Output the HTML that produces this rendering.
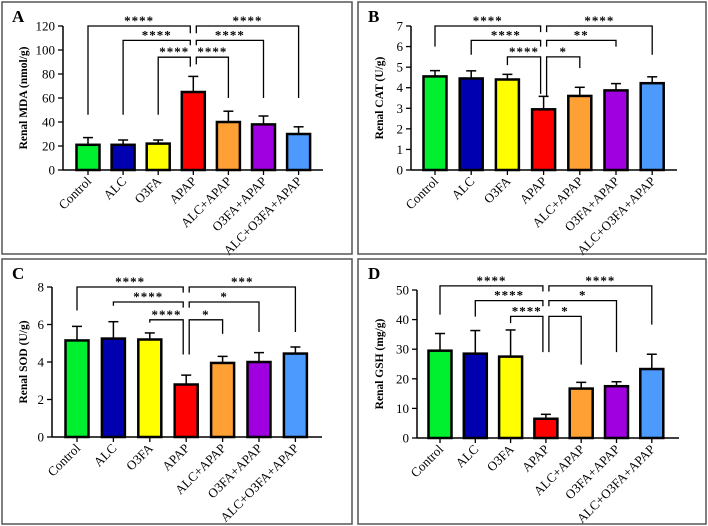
<!DOCTYPE html>
<html><head><meta charset="utf-8"><style>
body{margin:0;background:#fff;}
svg{display:block;font-family:"Liberation Serif",serif;}
</style></head><body>
<svg id="fig" width="708" height="526" viewBox="0 0 708 526"></svg>
<script>
const categories = ["Control","ALC","O3FA","APAP","ALC+APAP","O3FA+APAP","ALC+O3FA+APAP"];
const colors = ["#00f030","#0000b0","#ffff00","#ff0000","#ffa035","#a000e0","#4d9aff"];
const mdaMeans = [21,21,22,65,40,38,30];
const mdaErr = [6,4,3,13,9,7,6];
const mdaTicks = [0,20,40,60,80,100,120];
const catMeans = [4.55,4.45,4.4,2.95,3.6,3.87,4.22];
const catErr = [0.28,0.37,0.25,0.63,0.42,0.33,0.31];
const catTicks = [0,1,2,3,4,5,6,7];
const sodMeans = [5.15,5.25,5.2,2.8,3.95,4.0,4.45];
const sodErr = [0.75,0.9,0.35,0.5,0.35,0.5,0.35];
const sodTicks = [0,2,4,6,8];
const gshMeans = [29.5,28.5,27.5,6.5,16.7,17.5,23.3];
const gshErr = [5.8,7.8,9.0,1.5,2.1,1.5,5.0];
const gshTicks = [0,10,20,30,40,50];
// brackets: [otherGroup, level, otherLegEnd, apapLegEnd, label]
const mdaBrackets = [[0,120,46,114,"****"],[1,108,46,104,"****"],[2,94,46,86,"****"],[6,120,60,114,"****"],[5,108,60,104,"****"],[4,94,60,88,"****"]];
const catBrackets = [[0,7,6.0,6.7,"****"],[1,6.3,5.6,6.0,"****"],[2,5.5,5.1,3.7,"****"],[6,7,5.6,6.7,"****"],[5,6.3,6.0,6.0,"**"],[4,5.5,4.95,3.6,"*"]];
const sodBrackets = [[0,8,6.75,7.7,"****"],[1,7.2,7.0,6.9,"****"],[2,6.25,6.1,4.4,"****"],[6,8,5.6,7.7,"***"],[5,7.2,5.6,6.9,"*"],[4,6.25,5.5,4.4,"*"]];
const gshBrackets = [[0,51.4,41.7,49.5,"****"],[1,46.4,41,44.5,"****"],[2,41.1,38.8,29,"****"],[6,51.4,38.3,49.5,"****"],[5,46.4,29,44.5,"*"],[4,41.1,24.8,29,"*"]];

const NS="http://www.w3.org/2000/svg";
const svg=document.getElementById('fig');
function mk(tag,attrs,parent){const e=document.createElementNS(NS,tag);for(const k in attrs)e.setAttribute(k,attrs[k]);(parent||svg).appendChild(e);return e;}

function panel(p){
  const g=mk('g',{});
  
  
  const box=mk('rect',{x:p.bx,y:p.by,width:p.bw,height:p.bh,fill:'none',stroke:'#555','stroke-width':1.5},g);
  
  
  const lt=mk('text',{x:p.bx+10,y:p.by+20,'font-size':17,'font-weight':'bold'},g);lt.textContent=p.letter;
  
  
  const maxV=p.ticks[p.ticks.length-1];
  const ys=v=>p.y0-(v/maxV)*(p.y0-p.yTop);
  const xs=i=>p.c0+i*p.step;
  const ax=mk('line',{x1:p.ax,y1:p.yTop,x2:p.ax,y2:p.y0,stroke:'#000','stroke-width':1.5},g);
  
  
  p.ticks.forEach(t=>{
    mk('line',{x1:p.ax-5,y1:ys(t),x2:p.ax,y2:ys(t),stroke:'#000','stroke-width':1.3},g);
    const tx=mk('text',{x:p.ax-8,y:ys(t)+4.5,'font-size':13,'text-anchor':'end'},g);tx.textContent=t;
    
    
  });
  const yl=mk('text',{x:0,y:0,'font-size':11.5,'font-weight':'bold','text-anchor':'middle',transform:`translate(${p.bx+25},${(p.yTop+p.y0)/2}) rotate(-90)`},g);
  yl.textContent=p.ylabel;
  
  
  const xa=mk('line',{x1:p.ax,y1:p.y0,x2:p.axEnd,y2:p.y0,stroke:'#000','stroke-width':1.5},g);
  
  
  categories.forEach((c,i)=>{
    const x=xs(i);
    const m=p.means[i], e=p.err[i];
    mk('line',{x1:x,y1:ys(m+e),x2:x,y2:ys(m),stroke:'#000','stroke-width':1.5},g);
    mk('line',{x1:x-5,y1:ys(m+e),x2:x+5,y2:ys(m+e),stroke:'#000','stroke-width':1.5},g);
    const b=mk('rect',{x:x-p.bw2/2,y:ys(m),width:p.bw2,height:p.y0-ys(m),fill:colors[i],stroke:'#000','stroke-width':2.5},g);
    
    
    mk('line',{x1:x,y1:p.y0,x2:x,y2:p.y0+5,stroke:'#000','stroke-width':1.3},g);
    const t=mk('text',{x:0,y:0,'font-size':13,'text-anchor':'end',transform:`translate(${x+4},${p.y0+12}) rotate(-45)`},g);
    t.textContent=c;
    
    
  });
  p.brackets.forEach(b=>{
    const other=xs(b[0]);
    const near=b[0]<3?xs(3)-3:xs(3)+3;
    const y=ys(b[1]);
    const pl=mk('polyline',{points:`${other},${ys(b[2])} ${other},${y} ${near},${y} ${near},${ys(b[3])}`,fill:'none',stroke:'#000','stroke-width':1.3},g);
    
    
    const st=mk('text',{x:(other+near)/2,y:y-1,'font-size':13,'font-weight':'bold','text-anchor':'middle','letter-spacing':'1px'},g);
    st.textContent=b[4];
    
    
  });
}
panel({letter:'A',bx:2,by:2,bw:350,bh:252,ax:63,axEnd:323,yTop:26,y0:170,c0:88,step:35.1,bw2:23,ticks:mdaTicks,means:mdaMeans,err:mdaErr,brackets:mdaBrackets,ylabel:'Renal MDA (nmol/g)'});
panel({letter:'B',bx:358,by:2,bw:348,bh:252,ax:411,axEnd:677,yTop:26,y0:170,c0:435,step:36.2,bw2:23,ticks:catTicks,means:catMeans,err:catErr,brackets:catBrackets,ylabel:'Renal CAT (U/g)'});
panel({letter:'C',bx:2,by:259,bw:350,bh:265,ax:52,axEnd:322,yTop:287,y0:437,c0:77,step:36.4,bw2:23,ticks:sodTicks,means:sodMeans,err:sodErr,brackets:sodBrackets,ylabel:'Renal SOD (U/g)'});
panel({letter:'D',bx:358,by:259,bw:348,bh:265,ax:417,axEnd:679,yTop:290,y0:438,c0:440,step:35.3,bw2:23,ticks:gshTicks,means:gshMeans,err:gshErr,brackets:gshBrackets,ylabel:'Renal GSH (mg/g)'});
</script>
</body></html>
